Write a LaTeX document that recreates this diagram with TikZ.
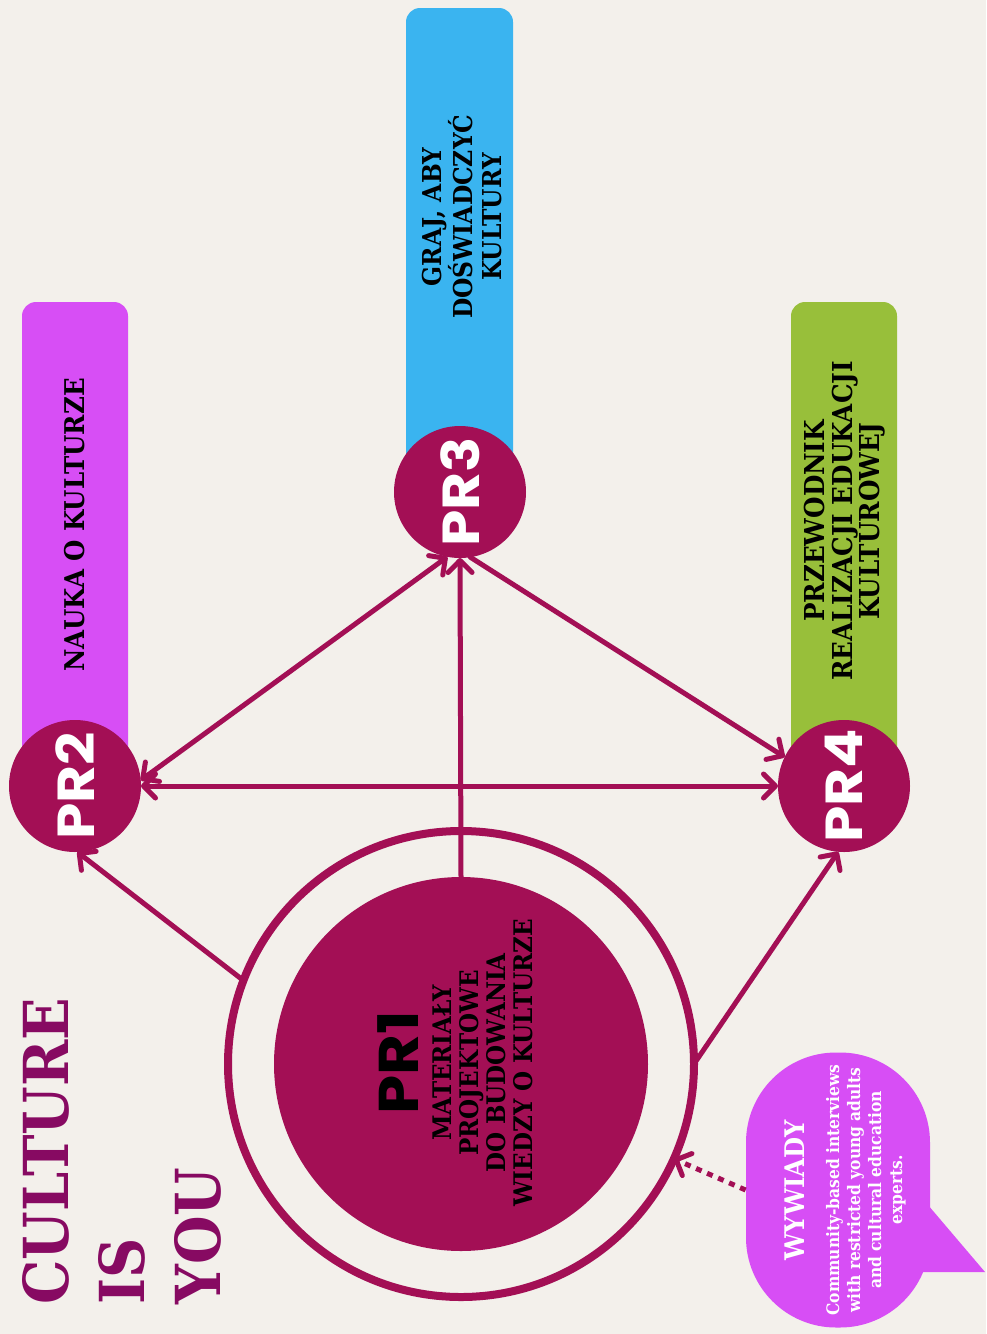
\documentclass[tikz,border=0pt]{standalone}
\usepackage{fontspec}
\usepackage{graphicx}
\setmainfont{DejaVu Serif}[FakeStretch=0.9]
\newfontfamily\prfont{Poppins}[FakeStretch=1.12]
\usetikzlibrary{arrows.meta}

\definecolor{paper}{HTML}{F3F0EB}
\definecolor{berry}{HTML}{A30F55}
\definecolor{barviolet}{HTML}{D74EF5}
\definecolor{barblue}{HTML}{3AB4F0}
\definecolor{bargreen}{HTML}{98BF3A}
\definecolor{titleplum}{HTML}{870A62}

\tikzset{
  prdot/.style={circle, fill=berry, minimum size=66pt, inner sep=0pt, outer sep=0pt,
    text=white, font=\prfont\bfseries\fontsize{26}{26}\selectfont},
  bartext/.style={rotate=90, align=center, font=\bfseries\fontsize{13}{14.25}\selectfont},
  link/.style={draw=berry, line width=2.5pt, line cap=round},
}

\begin{document}
\begin{tikzpicture}[x=0.5pt, y=-0.5pt, >={Straight Barb[length=6pt,width=12pt,round]}]
    \fill[paper] (0,0) rectangle (986,1334);
    \useasboundingbox (0,0) rectangle (986,1334);

    % bars behind the PR circles
    \fill[barviolet, rounded corners=7pt] (22,302) rectangle (128,790);
    \fill[barblue, rounded corners=7pt] (406,8) rectangle (513,500);
    \fill[bargreen, rounded corners=7pt] (791,302) rectangle (897,790);

    \node[bartext, font=\bfseries\fontsize{13.6}{16}\selectfont] (nauka) at (75,525) {NAUKA O KULTURZE};
    \node[bartext] (graj) at (462,217) {GRAJ, ABY\\DOŚWIADCZYĆ\\KULTURY};
    \node[bartext, font=\bfseries\fontsize{13.7}{13.75}\selectfont] (przew) at (845,521)
        {PRZEWODNIK\\REALIZACJI EDUKACJI\\KULTUROWEJ};

    \node[prdot] (pr2) at (75,786) {\rotatebox{90}{PR2}};
    \node[prdot] (pr3) at (460,492) {\rotatebox{90}{PR3}};
    \node[prdot] (pr4) at (844,786) {\rotatebox{90}{PR4}};

    % PR1 and its ring
    \node[circle, draw=berry, line width=4pt, minimum size=233pt, inner sep=0pt, outer sep=0pt] (ring) at (461,1064) {};
    \node[circle, fill=berry, minimum size=187pt, inner sep=0pt, outer sep=0pt] (pr1) at (461,1064) {};
    \node[rotate=90, align=center, font=\bfseries\fontsize{12.8}{13.5}\selectfont] (pr1txt) at (455,1063)
        {{\prfont\fontsize{28}{30}\selectfont PR1}\\[3pt]MATERIAŁY\\PROJEKTOWE\\DO BUDOWANIA\\WIEDZY O KULTURZE};

    % title
    \node[rotate=90, anchor=north west, align=left, inner sep=0pt, text=titleplum,
        font=\bfseries\fontsize{31}{38}\selectfont] (title) at (22,1305) {CULTURE\\IS\\YOU};

    % speech bubble
    \node[fill=barviolet, rounded corners=45pt, minimum width=92pt, minimum height=137.5pt, inner sep=0pt] (bubble) at (838,1190) {};
    \fill[barviolet] (928,1205) -- (985,1272) -- (918,1272) -- cycle;
    \node[rotate=90, align=center, text=white, font=\bfseries\fontsize{8.6}{10.5}\selectfont] (bubbletxt) at (845,1190)
        {{\fontsize{13.5}{16}\selectfont WYWIADY}\\[7pt]Community-based interviews\\with restricted young adults\\and cultural education\\experts.};

    % connectors
    \draw[link, ->] (pr1.north) -- (pr3.south);
    \draw[link, ->] (ring.159) -- (pr2.272);
    \draw[link, ->] (ring.0) -- (pr4.265);
    \draw[link, <->] (pr2.east) -- (pr4.west);
    \draw[link, <->] (pr2.5) -- (pr3.259);
    \draw[link, ->] (pr3.279) -- (pr4.154);
    \draw[link, ->, line cap=butt, dash pattern=on 3pt off 3pt] (bubble.west) -- (ring.336);
\end{tikzpicture}
\end{document}
